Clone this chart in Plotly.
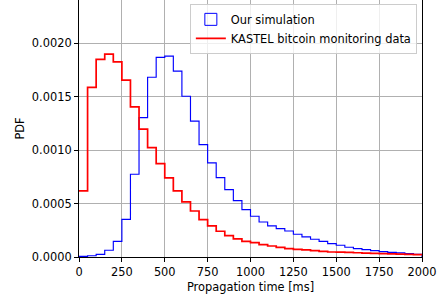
import plotly.graph_objects as go

bin_edges = list(range(0, 2001, 50))

sim_pdf = [0.000006, 0.000012, 0.000025, 0.000063, 0.000147, 0.000353, 0.000775, 0.001306,
           0.001684, 0.001869, 0.001881, 0.001741, 0.001506, 0.001272, 0.001053, 0.000881,
           0.000744, 0.000631, 0.000528, 0.000444, 0.000382, 0.000328, 0.000291, 0.000266,
           0.000244, 0.000213, 0.000188, 0.000166, 0.000147, 0.000126, 0.000110, 0.000091,
           0.000079, 0.000069, 0.000060, 0.000051, 0.000044, 0.000038, 0.000031, 0.000025]

kastel_pdf = [0.000619, 0.001588, 0.001850, 0.001900, 0.001828, 0.001656, 0.001406, 0.001197,
              0.001025, 0.000875, 0.000741, 0.000619, 0.000516, 0.000431, 0.000350, 0.000291,
              0.000241, 0.000200, 0.000170, 0.000147, 0.000135, 0.000116, 0.000103, 0.000091,
              0.000079, 0.000072, 0.000066, 0.000060, 0.000053, 0.000047, 0.000046, 0.000043,
              0.000040, 0.000037, 0.000034, 0.000031, 0.000029, 0.000027, 0.000025, 0.000023]

x_ticks = [0, 250, 500, 750, 1000, 1250, 1500, 1750, 2000]
y_ticks = [0.0, 0.0005, 0.0010, 0.0015, 0.0020]

font = dict(family="DejaVu Sans", size=11.4, color="black")

fig = go.Figure()

# simulation histogram outline (closed step polygon)
sx = [bin_edges[0]] + bin_edges[:-1] + [bin_edges[-1], bin_edges[-1]]
sy = [0] + sim_pdf + [sim_pdf[-1], 0]
fig.add_trace(go.Scatter(x=sx, y=sy, mode="lines", line=dict(color="blue", width=1.15, shape="hv"),
                         name="Our simulation", showlegend=False, legendgroup="sim"))
# legend swatch for the histogram (outlined patch)
fig.add_trace(go.Bar(x=[None], y=[None], name="Our simulation", legendgroup="sim",
                     marker=dict(color="rgba(0,0,0,0)", line=dict(color="blue", width=1))))

kx = bin_edges[:-1] + [bin_edges[-1]]
ky = kastel_pdf + [kastel_pdf[-1]]
fig.add_trace(go.Scatter(x=kx, y=ky, mode="lines", line=dict(color="red", width=1.7, shape="hv"),
                         name="KASTEL bitcoin monitoring data"))

axis_common = dict(showline=True, linecolor="black", linewidth=1, mirror=True,
                   ticks="outside", ticklen=4, tickcolor="black", tickwidth=1,
                   showgrid=True, gridcolor="#b0b0b0", gridwidth=0.9, zeroline=False,
                   tickfont=font, automargin=False)

fig.update_layout(
    width=437, height=298,
    margin=dict(l=79, r=15, t=0, b=41, pad=0),
    paper_bgcolor="white", plot_bgcolor="white",
    font=font,
    showlegend=True,
    legend=dict(x=0.985, y=0.985, xanchor="right", yanchor="top", traceorder="normal",
                bgcolor="rgba(255,255,255,0.8)", bordercolor="#cccccc", borderwidth=1,
                font=font, tracegroupgap=0),
    xaxis=dict(range=[0, 2000], tickvals=x_ticks, tickformat="d",
               title=dict(text="Propagation time [ms]", font=font, standoff=5), **axis_common),
    yaxis=dict(range=[0, 0.002407], tickvals=y_ticks, tickformat=".4f",
               title=dict(text="PDF", font=font, standoff=4), **axis_common),
)

fig.write_html("out.html", config={"displayModeBar": False},
               post_script="document.body.style.margin='0';")
